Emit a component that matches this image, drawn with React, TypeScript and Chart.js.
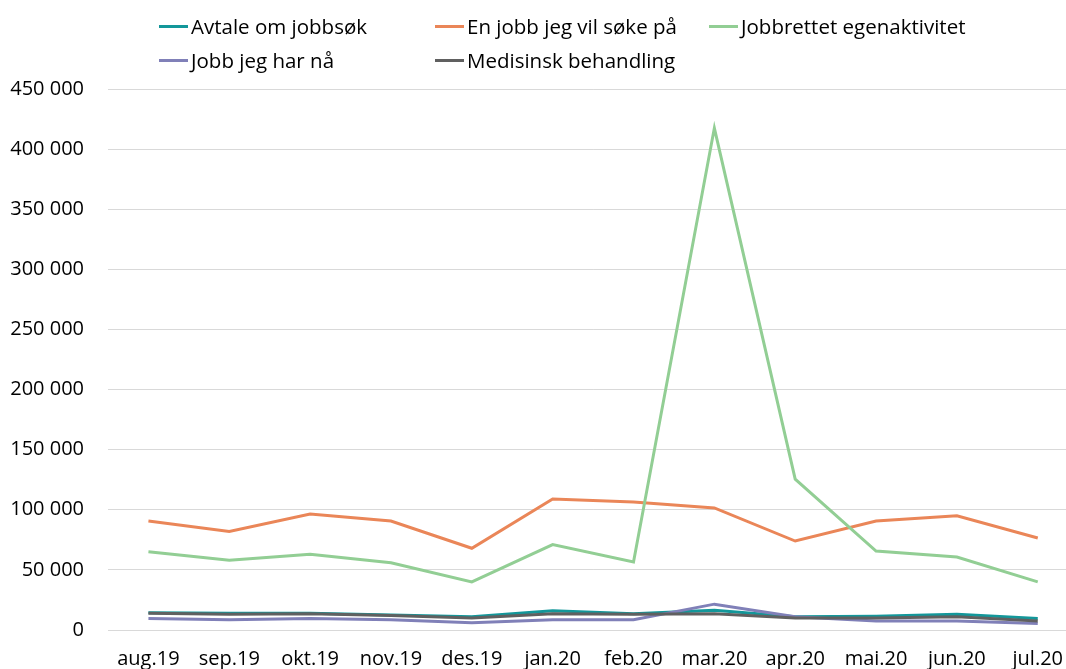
import React, { useEffect, useRef } from "react";
import { Chart, registerables } from "chart.js";

Chart.register(...registerables);

const categories = ["aug.19", "sep.19", "okt.19", "nov.19", "des.19", "jan.20", "feb.20", "mar.20", "apr.20", "mai.20", "jun.20", "jul.20"];
const avtaleOmJobbsok = [14400, 14000, 14000, 12500, 11000, 16000, 13500, 16500, 11000, 11500, 13000, 9500];
const enJobbJegVilSokePa = [90600, 82000, 96500, 90600, 68000, 109000, 106500, 101500, 74000, 90600, 95000, 76500];
const jobbrettetEgenaktivitet = [65000, 58000, 63000, 56000, 40000, 71000, 56500, 417500, 125500, 65700, 60700, 40000];
const jobbJegHarNa = [9500, 8500, 9500, 8500, 6000, 8500, 8500, 21500, 11000, 7500, 7500, 5500];
const medisinskBehandling = [14000, 13000, 13500, 12000, 10000, 13500, 13000, 13500, 10000, 10000, 11000, 7500];
const yTicks = [0, 50000, 100000, 150000, 200000, 250000, 300000, 350000, 400000, 450000];

const seriesNames = ["Avtale om jobbsøk", "En jobb jeg vil søke på", "Jobbrettet egenaktivitet", "Jobb jeg har nå", "Medisinsk behandling"];
const seriesData = [avtaleOmJobbsok, enJobbJegVilSokePa, jobbrettetEgenaktivitet, jobbJegHarNa, medisinskBehandling];
const seriesColors = ["#13979A", "#EA8658", "#92CE94", "#8080B8", "#606060"];

const FONT = "'Open Sans', sans-serif";

function fmt(v: number) {
  return String(v).replace(/\B(?=(\d{3})+(?!\d))/g, " ");
}

export default function App() {
  const ref = useRef<HTMLCanvasElement>(null);
  useEffect(() => {
    if (!ref.current) return;
    const chart = new Chart(ref.current, {
      type: "line",
      data: {
        labels: categories,
        datasets: seriesData.map((d, i) => ({
          label: seriesNames[i],
          data: d,
          borderColor: seriesColors[i],
          backgroundColor: seriesColors[i],
          borderWidth: 3,
          pointRadius: 0,
          tension: 0,
          order: 5 - i,
        })),
      },
      options: {
        animation: false,
        responsive: false,
        maintainAspectRatio: false,
        layout: { padding: { top: 89, left: 0, right: 0, bottom: 0 } },
        plugins: { legend: { display: false }, tooltip: { enabled: false } },
        scales: {
          x: {
            offset: true,
            grid: { display: false, drawTicks: false },
            border: { display: true, color: "#D9D9D9", width: 1 },
            ticks: { color: "#000", font: { family: FONT, size: 20, lineHeight: 1.2 }, padding: 17, maxRotation: 0, autoSkip: false },
          },
          y: {
            min: 0,
            max: 450000,
            afterBuildTicks: (axis: any) => {
              axis.ticks = yTicks.map((v) => ({ value: v }));
            },
            afterFit: (axis: any) => {
              axis.width = 108;
            },
            grid: { color: "#D9D9D9", lineWidth: 1, drawTicks: false },
            border: { display: false },
            ticks: {
              color: "#000",
              font: { family: FONT, size: 20 },
              padding: 24,
              callback: (v: any) => fmt(Number(v)),
            },
          },
        },
      },
    });
    return () => chart.destroy();
  }, []);

  const legendItem = (i: number, left: number, top: number) => (
    <div key={i} style={{ position: "absolute", left, top, display: "flex", alignItems: "center", fontFamily: FONT, fontSize: 20.5, color: "#000", whiteSpace: "nowrap" }}>
      <span style={{ display: "inline-block", width: 29, height: 3, background: seriesColors[i], marginRight: 3 }} />
      <span>{seriesNames[i]}</span>
    </div>
  );

  return (
    <div style={{ position: "fixed", left: 0, top: 0, width: 1066, height: 669, overflow: "hidden", background: "#fff" }}>
      <canvas ref={ref} width={1080} height={688} style={{ position: "absolute", left: 0, top: 0 }} />
      {legendItem(0, 159, 12)}
      {legendItem(1, 435, 12)}
      {legendItem(2, 709, 12)}
      {legendItem(3, 159, 46)}
      {legendItem(4, 435, 46)}
    </div>
  );
}
